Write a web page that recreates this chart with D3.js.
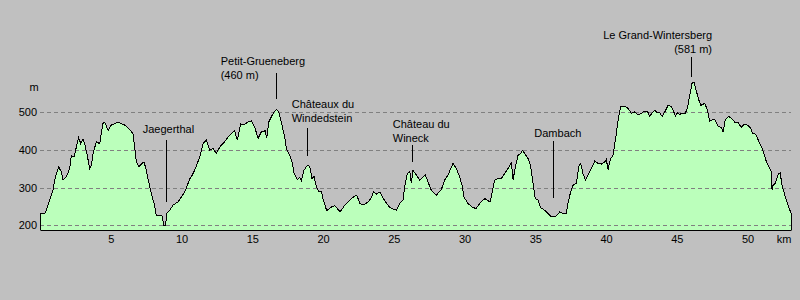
<!DOCTYPE html>
<html lang="fr">
<head>
<meta charset="UTF-8">
<title>Profil altimétrique</title>
<script src="https://cdnjs.cloudflare.com/ajax/libs/d3/7.8.5/d3.min.js"></script>
<style>
    body { margin: 0; background: #c0c0c0; }
    svg text { font-family: "Liberation Sans", Arial, sans-serif; font-size: 11px; fill: #000; }
</style>
</head>
<body>
<svg id="chart" width="800" height="300"></svg>
<script>
    // distance along the route (km) and elevation (m)
    const distanceKm = [
        0, 0.33, 0.45, 0.69, 0.92, 1.08, 1.32, 1.51, 1.63, 1.86,
        2.10, 2.21, 2.40, 2.57, 2.73, 2.88, 3.04, 3.16, 3.34, 3.51,
        3.63, 3.75, 3.98, 4.22, 4.33, 4.45, 4.57, 4.81, 5.04, 5.51,
        5.99, 6.34, 6.57, 6.69, 6.81, 6.98, 7.16, 7.35, 7.51, 7.68,
        7.87, 8.06, 8.22, 8.46, 8.62, 8.74, 8.88, 8.95, 9.17, 9.40,
        9.75, 10.23, 10.60, 10.69, 10.93, 11.29, 11.52, 11.75, 11.99, 12.23,
        12.46, 12.70, 13.05, 13.29, 13.52, 13.76, 13.94, 14.18, 14.35, 14.70,
        14.93, 15.17, 15.41, 15.64, 15.92, 16.02, 16.16, 16.35, 16.54, 16.70,
        16.87, 17.05, 17.29, 17.41, 17.65, 17.81, 17.95, 18.18, 18.35, 18.47,
        18.66, 18.89, 19.06, 19.22, 19.36, 19.53, 19.70, 19.88, 20.02, 20.26,
        20.61, 20.85, 21.20, 21.55, 21.91, 22.14, 22.38, 22.61, 22.85, 23.20,
        23.44, 23.55, 23.79, 24.03, 24.26, 24.50, 24.73, 25.19, 25.42, 25.65,
        25.77, 25.96, 26.13, 26.24, 26.36, 26.52, 26.83, 27.07, 27.23, 27.42,
        27.65, 28.01, 28.36, 28.60, 28.83, 29.19, 29.42, 29.66, 29.82, 29.96,
        30.25, 30.60, 30.83, 31.07, 31.43, 31.80, 31.89, 32.13, 32.37, 32.60,
        32.84, 33.07, 33.31, 33.43, 33.59, 33.78, 33.97, 34.08, 34.25, 34.49,
        34.68, 34.84, 35.00, 35.19, 35.38, 35.67, 35.90, 36.14, 36.49, 36.73,
        37.03, 37.19, 37.31, 37.50, 37.67, 37.90, 38.07, 38.21, 38.37, 38.54,
        38.73, 38.96, 39.20, 39.43, 39.67, 39.91, 40.02, 40.14, 40.33, 40.49,
        40.73, 40.85, 41.04, 41.32, 41.56, 41.79, 42.03, 42.26, 42.49, 42.73,
        42.92, 43.09, 43.25, 43.44, 43.63, 43.79, 43.96, 44.15, 44.38, 44.57,
        44.73, 44.90, 45.04, 45.21, 45.37, 45.61, 45.75, 45.92, 46.08, 46.22,
        46.38, 46.55, 46.69, 46.86, 46.98, 47.16, 47.33, 47.56, 47.72, 47.91,
        48.15, 48.27, 48.43, 48.67, 48.90, 49.09, 49.33, 49.56, 49.75, 49.99,
        50.23, 50.33, 50.57, 50.76, 51.00, 51.19, 51.36, 51.57, 51.68, 51.73,
        51.80, 51.96, 52.16, 52.30, 52.44, 52.63, 52.86, 53.07
    ];
    const elevationM = [
        232, 232, 240, 267, 293, 328, 355, 341, 320, 328,
        350, 385, 381, 407, 432, 416, 427, 416, 385, 350,
        359, 390, 421, 416, 443, 469, 473, 451, 465, 473,
        465, 453, 443, 407, 368, 355, 362, 368, 346, 315,
        284, 258, 227, 227, 225, 201, 201, 232, 240, 254,
        262, 289, 324, 328, 346, 381, 416, 425, 399, 403,
        390, 407, 421, 434, 443, 450, 425, 469, 465, 473,
        476, 460, 430, 447, 450, 430, 473, 487, 500, 506,
        500, 473, 434, 403, 385, 368, 339, 321, 327, 319,
        346, 359, 356, 324, 330, 302, 291, 291, 267, 239,
        249, 252, 236, 254, 267, 275, 280, 258, 254, 262,
        275, 289, 283, 289, 271, 258, 247, 240, 258, 267,
        302, 337, 343, 311, 346, 337, 320, 328, 333, 315,
        293, 280, 295, 320, 333, 364, 350, 328, 306, 275,
        258, 247, 245, 258, 271, 262, 275, 320, 324, 324,
        337, 350, 365, 320, 355, 385, 390, 399, 390, 377,
        355, 311, 271, 267, 247, 240, 232, 223, 225, 236,
        230, 232, 258, 289, 306, 311, 355, 364, 337, 320,
        333, 350, 370, 364, 362, 368, 374, 348, 377, 385,
        443, 478, 515, 515, 509, 496, 500, 492, 496, 502,
        502, 488, 497, 504, 497, 498, 488, 500, 517, 515,
        506, 488, 497, 493, 497, 497, 511, 544, 576, 577,
        555, 532, 517, 520, 523, 504, 476, 480, 478, 462,
        459, 447, 480, 488, 482, 473, 472, 459, 467, 465,
        456, 444, 441, 425, 406, 385, 365, 350, 341, 295,
        306, 312, 335, 339, 306, 280, 254, 232
    ];

    const xTicks = [5, 10, 15, 20, 25, 30, 35, 40, 45, 50];
    const yTicks = [200, 300, 400, 500];

    // named places: line from "top" to "bottom" (m) at "km", text anchored at textKm / textM
    const places = [
        { lines: ["Jaegerthal"], km: 8.88, top: 426, bottom: 263, textKm: 7.26, textM: 443, anchor: "start" },
        { lines: ["Petit-Grueneberg", "(460 m)"], km: 16.70, top: 603, bottom: 535, textKm: 12.77, textM: 587, anchor: "start" },
        { lines: ["Châteaux du", "Windedstein"], km: 18.89, top: 457, bottom: 384, textKm: 17.79, textM: 473, anchor: "start" },
        { lines: ["Château du", "Wineck"], km: 26.31, top: 412, bottom: 368, textKm: 24.93, textM: 420, anchor: "start" },
        { lines: ["Dambach"], km: 36.23, top: 423, bottom: 273, textKm: 34.93, textM: 434, anchor: "start" },
        { lines: ["Le Grand-Wintersberg", "(581 m)"], km: 46.03, top: 645, bottom: 593, textKm: 47.49, textM: 655, anchor: "end" }
    ];

    const svg = d3.select("#chart");
    const baseM = 188;

    const x = d3.scaleLinear().domain([0, 53.07]).range([40, 791]);
    const y = d3.scaleLinear().domain([baseM, 600]).range([230, 74]);

    const points = distanceKm.map((d, i) => ({ km: d, m: elevationM[i] }));

    svg.append("rect").attr("width", 800).attr("height", 300).attr("fill", "#c0c0c0");

    // green area under the profile
    const area = d3.area()
        .x(d => x(d.km))
        .y0(y(baseM))
        .y1(d => y(d.m));

    svg.append("path")
        .datum(points)
        .attr("d", area)
        .attr("fill", "#bbffbb");

    // dashed grid lines
    svg.append("g")
        .selectAll("line")
        .data(yTicks)
        .enter()
        .append("line")
        .attr("x1", x.range()[0])
        .attr("x2", x.range()[1])
        .attr("y1", d => Math.round(y(d)) + 0.5)
        .attr("y2", d => Math.round(y(d)) + 0.5)
        .attr("stroke", "#808080")
        .attr("stroke-dasharray", "4,3")
        .attr("shape-rendering", "crispEdges");

    // profile outline, closed down to the base at both ends
    const outline = [{ km: distanceKm[0], m: baseM }, ...points, { km: distanceKm[distanceKm.length - 1], m: baseM }];
    svg.append("path")
        .datum(outline)
        .attr("d", d3.line().x(d => x(d.km)).y(d => y(d.m)))
        .attr("fill", "none")
        .attr("stroke", "#000")
        .attr("stroke-width", 1)
        .attr("shape-rendering", "crispEdges");

    // axes
    const xAxis = svg.append("g")
        .attr("transform", "translate(0," + y(baseM) + ")")
        .call(d3.axisBottom(x).tickValues(xTicks).tickSize(0).tickSizeOuter(0).tickPadding(5));
    xAxis.select(".domain").attr("stroke", "#000");
    xAxis.attr("font-family", null).attr("font-size", null);

    const yAxis = svg.append("g")
        .attr("transform", "translate(" + x.range()[0] + ",0)")
        .call(d3.axisLeft(y).tickValues(yTicks).tickSize(0).tickPadding(3));
    yAxis.select(".domain").remove();
    yAxis.attr("font-family", null).attr("font-size", null);

    svg.append("text").attr("x", 784).attr("y", 243).attr("text-anchor", "middle").text("km");
    svg.append("text").attr("x", 34).attr("y", 91).attr("text-anchor", "middle").text("m");

    // place labels
    const label = svg.append("g").selectAll("g").data(places).enter().append("g");

    label.append("line")
        .attr("x1", d => Math.round(x(d.km)) + 0.5)
        .attr("x2", d => Math.round(x(d.km)) + 0.5)
        .attr("y1", d => y(d.top))
        .attr("y2", d => y(d.bottom))
        .attr("stroke", "#000")
        .attr("shape-rendering", "crispEdges");

    label.each(function(d) {
        const g = d3.select(this);
        const n = d.lines.length;
        d.lines.forEach((t, i) => {
            g.append("text")
                .attr("x", x(d.textKm))
                .attr("y", y(d.textM) - (n - 1 - i) * 14)
                .attr("text-anchor", d.anchor)
                .text(t);
        });
    });
</script>
</body>
</html>
